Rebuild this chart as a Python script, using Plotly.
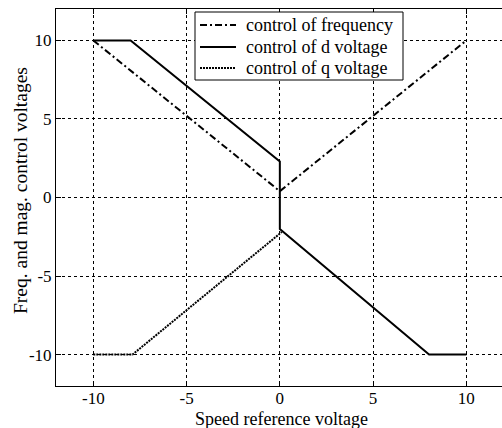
import plotly.graph_objects as go

# Data
freq_x = [-10, 0, 10]
freq_y = [10, 0.4, 10]

d_x = [-10, -8, 0, 0, 8, 10]
d_y = [10, 10, 2.3, -2.0, -10, -10]

q_x = [-10, -7.9, 0.1]
q_y = [-10, -10, -2.2]

x_ticks = [-10, -5, 0, 5, 10]
y_ticks = [-10, -5, 0, 5, 10]

series_names = ["control of frequency", "control of d voltage", "control of q voltage"]
series_dash = ["7px,3px,2px,3px", "solid", "2px,1px"]

FONT = '"Liberation Serif", "Times New Roman", "DejaVu Serif", serif'
FS = 17

fig = go.Figure()
for xs, ys, name, dash in zip([freq_x, d_x, q_x], [freq_y, d_y, q_y], series_names, series_dash):
    fig.add_trace(go.Scatter(x=xs, y=ys, mode="lines", name=name, showlegend=False,
                             line=dict(color="black", width=2, dash=dash)))

axis_common = dict(
    showgrid=True, gridcolor="black", gridwidth=1, griddash="3px,3px",
    zeroline=False, showline=True, linecolor="black", linewidth=1,
    ticks="inside", ticklen=5, tickcolor="black", automargin=False,
    tickfont=dict(family=FONT, size=FS, color="black"),
)

plot_w = 502 - 56
plot_h = 428 - 9 - 42
def px_to_paper(px, py):
    return (px - 56) / plot_w, 1 - (py - 9) / plot_h

xt = px_to_paper(281, 419)
yt = px_to_paper(20, 191)

# Legend box (drawn as decoration in paper coordinates)
shapes = []
annotations = []
bx0, by0 = px_to_paper(195, 12)
bx1, by1 = px_to_paper(403, 80)
shapes.append(dict(type="rect", xref="paper", yref="paper", x0=bx0, y0=by1, x1=bx1, y1=by0,
                   fillcolor="white", line=dict(color="black", width=1), layer="above"))
row_y = [25, 47, 68]
for name, dash, ry in zip(series_names, series_dash, row_y):
    lx0, ly = px_to_paper(200, ry)
    lx1, _ = px_to_paper(236, ry)
    shapes.append(dict(type="line", xref="paper", yref="paper", x0=lx0, y0=ly, x1=lx1, y1=ly,
                       line=dict(color="black", width=2, dash=dash), layer="above"))
    tx, _ = px_to_paper(244, ry)
    annotations.append(dict(text=name, x=tx, y=ly, xref="paper", yref="paper",
                            xanchor="left", yanchor="middle", showarrow=False,
                            font=dict(family=FONT, size=18, color="black")))

annotations += [
    dict(text="Speed reference voltage", x=xt[0], y=xt[1], xref="paper", yref="paper",
         xanchor="center", yanchor="middle", showarrow=False,
         font=dict(family=FONT, size=18, color="black")),
    dict(text="Freq. and mag. control voltages", x=yt[0], y=yt[1], xref="paper", yref="paper",
         xanchor="center", yanchor="middle", textangle=-90, showarrow=False,
         font=dict(family=FONT, size=19.5, color="black")),
]

fig.update_layout(
    width=502, height=428,
    margin=dict(l=56, r=0, t=9, b=42),
    paper_bgcolor="white", plot_bgcolor="white",
    font=dict(family=FONT, size=FS, color="black"),
    showlegend=False,
    xaxis=dict(range=[-12, 11.91], tickvals=x_ticks, ticktext=[str(v) for v in x_ticks],
               mirror="ticks", ticklabelstandoff=-3, **axis_common),
    yaxis=dict(range=[-12, 12], tickvals=y_ticks, ticktext=[str(v) for v in y_ticks],
               mirror=False, **axis_common),
    shapes=shapes,
    annotations=annotations,
)

fig.write_html("out.html", config={"displayModeBar": False},
               post_script="document.body.style.margin='0';document.body.style.overflow='hidden';")
